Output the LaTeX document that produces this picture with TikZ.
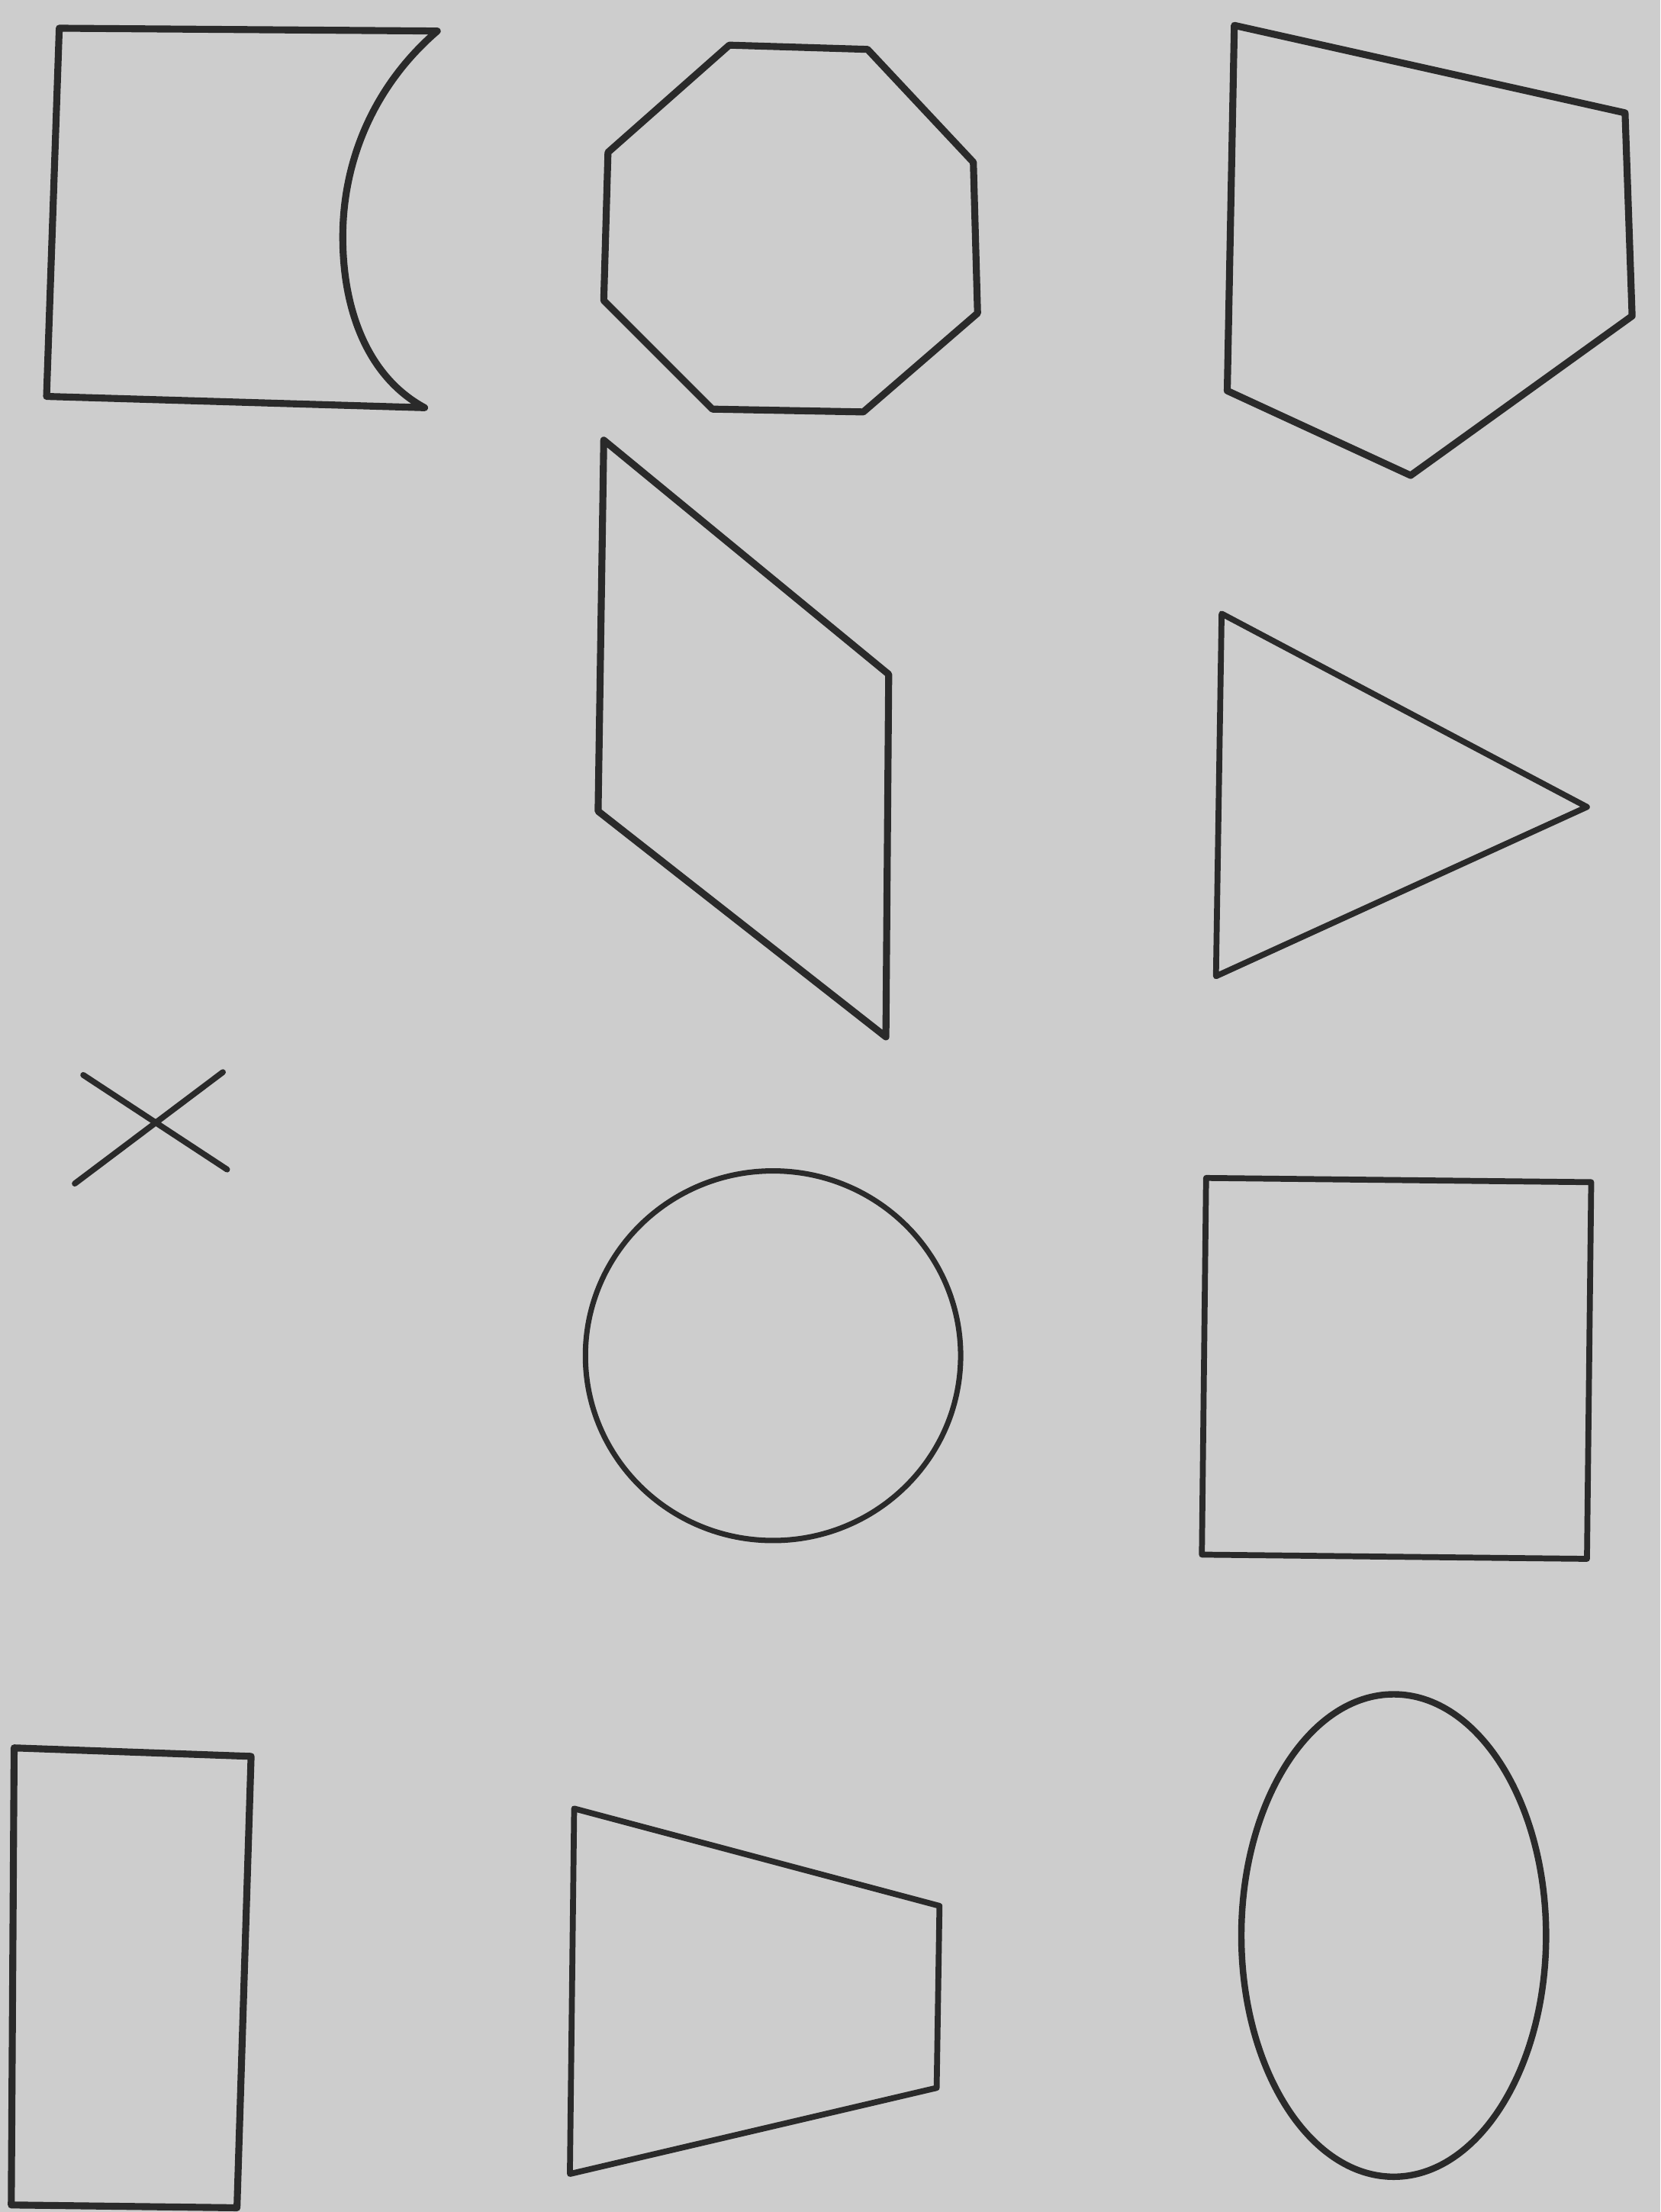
\documentclass[tikz,border=0pt]{standalone}
\definecolor{paper}{HTML}{CDCDCD}
\definecolor{ink}{HTML}{2A2A2A}
\begin{document}
\begin{tikzpicture}[x={(0.185mm,0)},y={(0,-0.185mm)}]
			\tikzset{outline/.style = {draw=ink, line width=2.6pt, line join=round, line cap=round}}
			\tikzset{thin outline/.style = {draw=ink, line width=2.2pt, line join=round, line cap=round}}
			% Background
			\fill[paper] (0,0) rectangle (1177,1568);
			\useasboundingbox (0,0) rectangle (1177,1568);
			% Draw concave square
			\coordinate (A1) at (42,20);
			\coordinate (A2) at (310,22);
			\coordinate (A3) at (301,289);
			\coordinate (A4) at (33,281);
			\draw[outline] (A4) -- (A1) -- (A2) .. controls (268,58) and (243,110) .. (243,168) .. controls (243,222) and (262,268) .. (A3) -- cycle;
			% Draw octagon
			\coordinate (B1) at (517,32);
			\coordinate (B2) at (615,35);
			\coordinate (B3) at (690,115);
			\coordinate (B4) at (693,222);
			\coordinate (B5) at (612,292);
			\coordinate (B6) at (505,290);
			\coordinate (B7) at (428,213);
			\coordinate (B8) at (431,108);
			\draw[outline] (B1) -- (B2) -- (B3) -- (B4) -- (B5) -- (B6) -- (B7) -- (B8) -- cycle;
			% Draw pentagon
			\coordinate (C1) at (875,18);
			\coordinate (C2) at (1152,80);
			\coordinate (C3) at (1157,224);
			\coordinate (C4) at (1000,337);
			\coordinate (C5) at (870,277);
			\draw[outline] (C1) -- (C2) -- (C3) -- (C4) -- (C5) -- cycle;
			% Draw parallelogram
			\coordinate (D1) at (428,312);
			\coordinate (D2) at (630,478);
			\coordinate (D3) at (628,735);
			\coordinate (D4) at (424,575);
			\draw[outline] (D1) -- (D2) -- (D3) -- (D4) -- cycle;
			% Draw triangle
			\coordinate (E1) at (866,435);
			\coordinate (E2) at (1125,572);
			\coordinate (E3) at (862,692);
			\draw[thin outline] (E1) -- (E2) -- (E3) -- cycle;
			% Draw cross
			\coordinate (F1) at (59,762);
			\coordinate (F2) at (161,829);
			\coordinate (F3) at (53,839);
			\coordinate (F4) at (158,760);
			\draw[thin outline] (F1) -- (F2);
			\draw[thin outline] (F3) -- (F4);
			% Draw circle
			\coordinate (G) at (548,961);
			\draw[thin outline, line width=2pt] (G) ellipse [x radius=133, y radius=131];
			% Draw square
			\coordinate (H1) at (855,835);
			\coordinate (H2) at (1128,838);
			\coordinate (H3) at (1125,1105);
			\coordinate (H4) at (852,1102);
			\draw[thin outline] (H1) -- (H2) -- (H3) -- (H4) -- cycle;
			% Draw rectangle
			\coordinate (I1) at (10,1239);
			\coordinate (I2) at (178,1245);
			\coordinate (I3) at (168,1565);
			\coordinate (I4) at (8,1563);
			\draw[outline] (I1) -- (I2) -- (I3) -- (I4) -- cycle;
			% Draw trapezoid
			\coordinate (J1) at (407,1282);
			\coordinate (J2) at (666,1351);
			\coordinate (J3) at (664,1480);
			\coordinate (J4) at (404,1541);
			\draw[thin outline] (J1) -- (J2) -- (J3) -- (J4) -- cycle;
			% Draw ellipse
			\coordinate (K) at (988,1372);
			\draw[thin outline, line width=2.4pt] (K) ellipse [x radius=108, y radius=171];
		\end{tikzpicture}
\end{document}
